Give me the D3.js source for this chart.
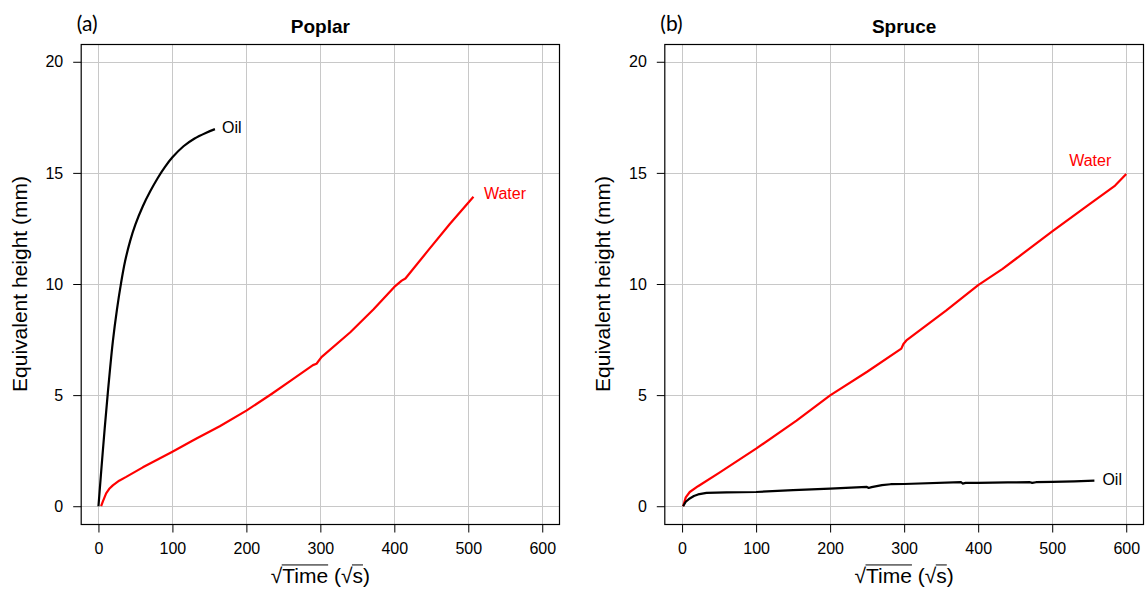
<!DOCTYPE html>
<meta charset="utf-8">
<head>
<style>
body { margin: 0; background: #fff; }
svg { display: block; }
text { font-family: "Liberation Sans", Arial, Helvetica, sans-serif; fill: #000; }
.tick text { font-size: 16px; }
.panelTag { font-family: Lato, "Open Sans", sans-serif; font-size: 21px; }
.title { font-size: 19px; font-weight: bold; }
.axTitle { font-size: 21px; }
</style>
<script src="https://cdn.jsdelivr.net/npm/d3@7"></script>
</head>
<body>
<svg width="1145" height="589"></svg>
<script>

// x = sqrt(time) in sqrt(s), y = equivalent height in mm
var xTicks = [0, 100, 200, 300, 400, 500, 600];
var yTicks = [0, 5, 10, 15, 20];

var poplarOilX = [0, 6, 12.6, 19.4, 25, 30.5, 36, 42.7, 50, 60, 70, 80, 90, 100, 115, 130, 145, 157.5];
var poplarOilY = [0, 2.52, 5.08, 7.4, 8.85, 10.03, 11.02, 11.92, 12.68, 13.5, 14.17, 14.76, 15.27, 15.7, 16.2, 16.55, 16.8, 16.97];

var poplarWaterX = [3.6, 6, 10.4, 15, 19.4, 28, 37.5, 60, 80, 100, 130, 164, 200, 234, 260, 290, 294.8, 301.5, 340.5, 372, 400, 410, 415, 445.5, 475, 507];
var poplarWaterY = [0, 0.22, 0.58, 0.8, 0.94, 1.15, 1.32, 1.75, 2.1, 2.45, 3.0, 3.6, 4.3, 5.05, 5.65, 6.35, 6.41, 6.71, 7.83, 8.86, 9.87, 10.15, 10.25, 11.5, 12.7, 13.93];

var spruceWaterX = [1.4, 5, 10.4, 21.6, 50, 100, 154.6, 200, 250, 296.2, 299, 303, 357, 400, 433, 500.5, 550, 585, 600];
var spruceWaterY = [0, 0.4, 0.64, 0.9, 1.5, 2.59, 3.85, 4.99, 6.05, 7.09, 7.3, 7.46, 8.81, 9.95, 10.68, 12.38, 13.58, 14.43, 14.95];

var spruceOilX = [1.4, 5, 10.4, 16, 21.6, 33, 60, 100, 150, 200, 249.6, 252, 256, 270, 281.7, 300, 377, 379, 383, 400, 440, 470, 473, 478, 500, 530, 557];
var spruceOilY = [0, 0.2, 0.35, 0.46, 0.53, 0.6, 0.62, 0.64, 0.72, 0.79, 0.87, 0.82, 0.86, 0.95, 0.99, 1.0, 1.08, 1.02, 1.05, 1.05, 1.07, 1.08, 1.05, 1.08, 1.1, 1.12, 1.15];

var svg = d3.select("svg");

var plotTop = 44, plotBottom = 524;

function zip(xs, ys) {
  return xs.map(function(x, i) { return [x, ys[i]]; });
}

function drawPanel(left, right, tag, title, series) {
  var x = d3.scaleLinear().domain([-24, 624]).range([left, right]);
  var y = d3.scaleLinear().domain([-0.8, 20.8]).range([plotBottom, plotTop]);
  var g = svg.append("g");

  // grid
  g.selectAll(".vgrid").data(xTicks).enter().append("line")
    .attr("x1", function(d) { return Math.round(x(d)) + 0.5; })
    .attr("x2", function(d) { return Math.round(x(d)) + 0.5; })
    .attr("y1", plotTop).attr("y2", plotBottom)
    .attr("stroke", "#c8c8c8").attr("stroke-width", 1);
  g.selectAll(".hgrid").data(yTicks).enter().append("line")
    .attr("y1", function(d) { return Math.round(y(d)) + 0.5; })
    .attr("y2", function(d) { return Math.round(y(d)) + 0.5; })
    .attr("x1", left).attr("x2", right)
    .attr("stroke", "#c8c8c8").attr("stroke-width", 1);

  // axes
  var xa = g.append("g")
    .attr("transform", "translate(0," + (plotBottom + 0.5) + ")")
    .call(d3.axisBottom(x).tickValues(xTicks).tickSizeInner(8).tickSizeOuter(0).tickPadding(10));
  var ya = g.append("g")
    .attr("transform", "translate(" + (left + 0.5) + ",0)")
    .call(d3.axisLeft(y).tickValues(yTicks).tickSizeInner(8).tickSizeOuter(0).tickPadding(10));
  xa.select(".domain").remove();
  ya.select(".domain").remove();
  xa.attr("font-family", null).attr("font-size", null);
  ya.attr("font-family", null).attr("font-size", null);

  // box
  g.append("rect")
    .attr("x", left + 0.5).attr("y", plotTop + 0.5)
    .attr("width", right - left - 1).attr("height", plotBottom - plotTop)
    .attr("fill", "none").attr("stroke", "#000").attr("stroke-width", 1.2);

  series.forEach(function(s) {
    var line = d3.line()
      .x(function(d) { return x(d[0]); })
      .y(function(d) { return y(d[1]); })
      .curve(s.smooth ? d3.curveCatmullRom.alpha(0.5) : d3.curveLinear);
    g.append("path")
      .attr("d", line(zip(s.xs, s.ys)))
      .attr("fill", "none")
      .attr("stroke", s.color)
      .attr("stroke-width", 2.2)
      .attr("stroke-linejoin", "round");
    var n = s.xs.length - 1;
    g.append("text")
      .attr("x", x(s.xs[n]) + s.dx)
      .attr("y", y(s.ys[n]) + s.dy)
      .attr("text-anchor", s.anchor)
      .attr("dominant-baseline", "middle")
      .style("fill", s.color)
      .style("font-size", "16px")
      .text(s.name);
  });

  // titles
  g.append("text").attr("class", "panelTag")
    .attr("x", left - 4).attr("y", 31).text(tag);
  g.append("text").attr("class", "title")
    .attr("x", (left + right) / 2).attr("y", 33)
    .attr("text-anchor", "middle").text(title);

  g.append("text").attr("class", "axTitle")
    .attr("transform", "translate(" + (left - 54) + "," + ((plotTop + plotBottom) / 2) + ") rotate(-90)")
    .attr("text-anchor", "middle")
    .text("Equivalent height (mm)");

  var base = 583;
  var xt = g.append("text").attr("class", "axTitle")
    .attr("x", (left + right) / 2).attr("y", base)
    .attr("text-anchor", "middle")
    .text("\u221ATime (\u221As)");
  var node = xt.node();
  var fs = 21;
  var topY = base - 0.86 * fs;
  [[1, 4], [8, 8]].forEach(function(r) {
    var a = node.getStartPositionOfChar(r[0]).x - 0.5;
    var b = node.getEndPositionOfChar(r[1]).x;
    g.append("line")
      .attr("x1", a).attr("x2", b)
      .attr("y1", topY).attr("y2", topY)
      .attr("stroke", "#000").attr("stroke-width", 1);
  });
}

drawPanel(80.7, 560, "(a)", "Poplar", [
  {name: "Oil", xs: poplarOilX, ys: poplarOilY, color: "#000", dx: 7, dy: 0, anchor: "start", smooth: true},
  {name: "Water", xs: poplarWaterX, ys: poplarWaterY, color: "#ff0000", dx: 10.5, dy: -1.5, anchor: "start", smooth: false}
]);

drawPanel(664.3, 1144, "(b)", "Spruce", [
  {name: "Water", xs: spruceWaterX, ys: spruceWaterY, color: "#ff0000", dx: -15, dy: -12, anchor: "end", smooth: false},
  {name: "Oil", xs: spruceOilX, ys: spruceOilY, color: "#000", dx: 8, dy: 0, anchor: "start", smooth: false}
]);

</script>
</body>
